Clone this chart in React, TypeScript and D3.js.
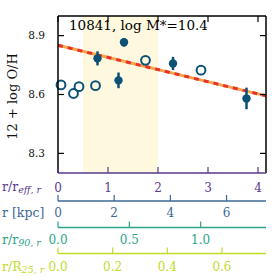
import React from "react";
import * as d3 from "d3";

const openX = [0.06, 0.31, 0.42, 0.75, 1.75, 2.86];
const openY = [8.649, 8.605, 8.64, 8.645, 8.774, 8.724];
const fillX = [0.79, 1.21, 1.32, 2.3, 3.77];
const fillY = [8.784, 8.672, 8.866, 8.758, 8.58];
const fillErr = [0.036, 0.04, 0.022, 0.034, 0.055];
const fitIntercept = 8.851;
const fitSlope = -0.062;
const shadeRange = [0.5, 2.0];
const yTicks = [8.3, 8.6, 8.9];
const reffTicks = [0, 1, 2, 3, 4];
const kpcTicks = [0, 2, 4, 6];
const r90Ticks = [0, 0.5, 1.0];
const r25Ticks = [0, 0.2, 0.4, 0.6];
const kpcPerReff = 1.78;
const r90PerReff = 0.3505;
const r25PerReff = 0.183;
const title = "10841, log M*=10.4";

const W = 277, H = 277;
const L = 58, R = 266, T = 16, B = 173;
const FONT = "DejaVu Serif";

export default function App() {
  const x = d3.scaleLinear().domain([0, 4.16]).range([L, R]);
  const y = d3.scaleLinear().domain([8.2, 9.0]).range([B, T]);
  const xKpc = d3.scaleLinear().domain([0, 4.16 * kpcPerReff]).range([L, R]);
  const x90 = d3.scaleLinear().domain([0, 4.16 * r90PerReff]).range([L, R]);
  const x25 = d3.scaleLinear().domain([0, 4.16 * r25PerReff]).range([L, R]);
  const dark = "#0c5277";
  const fitLine = d3.line<number>().x((d) => x(d)).y((d) => y(fitIntercept + fitSlope * d));
  const fitPts = [0, 4.16];

  const axes = [
    { scale: xKpc, ticks: kpcTicks, lineY: 201, labY: 217, color: "#3c6894", fmt: d3.format("d"), name: "r [kpc]", sub: "" },
    { scale: x90, ticks: r90Ticks, lineY: 227.5, labY: 244, color: "#2aa587", fmt: d3.format(".1f"), name: "r/r", sub: "90, r" },
    { scale: x25, ticks: r25Ticks, lineY: 253.5, labY: 271, color: "#c3da2c", fmt: d3.format(".1f"), name: "r/R", sub: "25, r" },
  ];
  const purple = "#5a3a8e";

  return (
    <svg width={W} height={H} style={{ position: "absolute", left: 0, top: 0 }} fontFamily={FONT}>
      <rect x={0} y={0} width={W} height={H} fill="#fff" />
      <rect x={x(shadeRange[0])} y={T} width={x(shadeRange[1]) - x(shadeRange[0])} height={B - T} fill="#fef8df" />
      <path d={fitLine(fitPts) || ""} stroke="#f7a54a" strokeWidth={3} fill="none" />
      <path d={fitLine(fitPts) || ""} stroke="#e8322c" strokeWidth={3} fill="none" strokeDasharray="5,5" />
      {openX.map((v, i) => (
        <circle key={"o" + i} cx={x(v)} cy={y(openY[i])} r={4.4} fill="none" stroke={dark} strokeWidth={2} />
      ))}
      {fillX.map((v, i) => (
        <g key={"f" + i}>
          <line x1={x(v)} x2={x(v)} y1={y(fillY[i] - fillErr[i])} y2={y(fillY[i] + fillErr[i])} stroke={dark} strokeWidth={2.5} />
          <circle cx={x(v)} cy={y(fillY[i])} r={4.2} fill={dark} />
        </g>
      ))}
      <line x1={L} x2={R} y1={T} y2={T} stroke="#000" strokeWidth={1.5} />
      <line x1={L} x2={L} y1={T} y2={B} stroke="#000" strokeWidth={1.5} />
      <line x1={R} x2={R} y1={T} y2={B} stroke="#000" strokeWidth={1.5} />
      <line x1={L} x2={R} y1={B} y2={B} stroke={purple} strokeWidth={1.5} />
      {yTicks.map((t) => (
        <g key={"y" + t}>
          <line x1={L} x2={L + 6} y1={y(t)} y2={y(t)} stroke="#000" strokeWidth={1.2} />
          <line x1={R - 6} x2={R} y1={y(t)} y2={y(t)} stroke="#000" strokeWidth={1.2} />
          <text x={L - 13} y={y(t)} dy="0.35em" textAnchor="end" fontSize={10.5} fill="#111">{d3.format(".1f")(t)}</text>
        </g>
      ))}
      {reffTicks.map((t) => (
        <g key={"xr" + t}>
          <line x1={x(t)} x2={x(t)} y1={B} y2={B - 6} stroke={purple} strokeWidth={1.2} />
          <line x1={x(t)} x2={x(t)} y1={T} y2={T + 6} stroke="#000" strokeWidth={1.2} />
          <text x={x(t)} y={192} textAnchor="middle" fontSize={12} fill={purple}>{t}</text>
        </g>
      ))}
      <text x={2} y={191} fontSize={12.5} fill={purple}>
        r/r<tspan fontSize={9.5} fontStyle="italic" dy={2}>eff, r</tspan>
      </text>
      {axes.map((a, k) => (
        <g key={"ax" + k}>
          <line x1={L} x2={R} y1={a.lineY} y2={a.lineY} stroke={a.color} strokeWidth={1.5} />
          {a.ticks.map((t) => (
            <g key={t}>
              <line x1={a.scale(t)} x2={a.scale(t)} y1={a.lineY} y2={a.lineY - 6} stroke={a.color} strokeWidth={1.2} />
              <text x={a.scale(t)} y={a.labY} textAnchor="middle" fontSize={12} fill={a.color}>{a.fmt(t)}</text>
            </g>
          ))}
          {a.sub ? (
            <text x={2} y={a.labY} fontSize={12.5} fill={a.color}>
              {a.name}<tspan fontSize={9.5} fontStyle="italic" dy={2}>{a.sub}</tspan>
            </text>
          ) : (
            <text x={2} y={a.labY} fontSize={12.5} fill={a.color}>{a.name}</text>
          )}
        </g>
      ))}
      <text x={69} y={30} fontSize={13.5} fill="#000">{title}</text>
      <text transform={`translate(17,${(T + B) / 2 + 2}) rotate(-90)`} textAnchor="middle" fontSize={13} fill="#111">12 + log O/H</text>
    </svg>
  );
}
